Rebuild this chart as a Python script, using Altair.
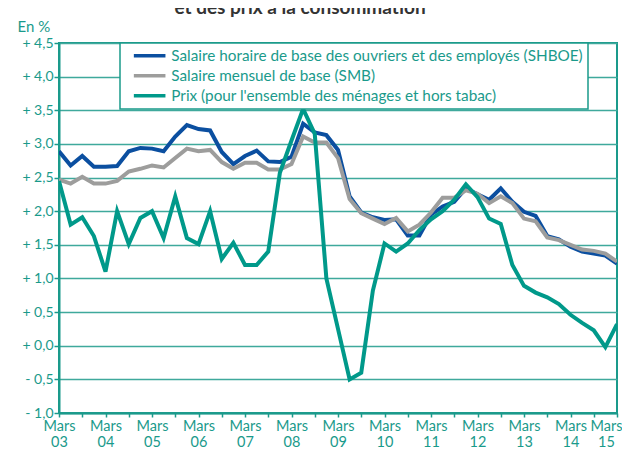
import altair as alt
import pandas as pd

TEAL = "#1a9a8b"
GRID = "#3fa99c"
FONT = "Lato"

names = [
    "Salaire horaire de base des ouvriers et des employés (SHBOE)",
    "Salaire mensuel de base (SMB)",
    "Prix (pour l'ensemble des ménages et hors tabac)",
]
colors = ["#0b4fa0", "#9d9d9c", "#00998a"]

# quarterly points, Mars 2003 -> Mars 2015
quarters = [2003 + 0.25 * i for i in range(49)]

shboe = [2.89, 2.68, 2.82, 2.66, 2.66, 2.67, 2.89, 2.94, 2.93, 2.89,
         3.11, 3.28, 3.22, 3.20, 2.88, 2.70, 2.82, 2.90, 2.74, 2.73,
         2.81, 3.30, 3.17, 3.13, 2.91, 2.22, 1.98, 1.91, 1.87, 1.88,
         1.64, 1.64, 1.95, 2.07, 2.14, 2.34, 2.25, 2.17, 2.34, 2.14,
         1.99, 1.93, 1.63, 1.58, 1.47, 1.40, 1.37, 1.34, 1.22]

smb = [2.47, 2.41, 2.51, 2.41, 2.41, 2.45, 2.59, 2.63, 2.68, 2.65,
       2.79, 2.93, 2.89, 2.91, 2.73, 2.63, 2.72, 2.72, 2.62, 2.62,
       2.70, 3.11, 3.02, 3.02, 2.79, 2.18, 1.97, 1.89, 1.81, 1.90,
       1.70, 1.80, 1.98, 2.20, 2.20, 2.31, 2.26, 2.12, 2.22, 2.12,
       1.89, 1.85, 1.61, 1.57, 1.50, 1.43, 1.41, 1.37, 1.25]

prix = [2.45, 1.80, 1.91, 1.63, 1.10, 2.00, 1.51, 1.90, 2.00, 1.60,
        2.22, 1.60, 1.51, 2.00, 1.29, 1.53, 1.20, 1.20, 1.40, 2.57,
        3.05, 3.52, 3.15, 1.00, 0.25, -0.50, -0.40, 0.82, 1.52, 1.40,
        1.52, 1.72, 1.88, 2.00, 2.17, 2.40, 2.21, 1.89, 1.81, 1.20,
        0.89, 0.79, 0.72, 0.62, 0.46, 0.34, 0.23, -0.02, 0.32]

x_ticks = [2003 + 0.5 * i for i in range(25)]
y_ticks = [-1.0, -0.5, 0.0, 0.5, 1.0, 1.5, 2.0, 2.5, 3.0, 3.5, 4.0, 4.5]

rows = []
for name, series in zip(names, [shboe, smb, prix]):
    for t, v in zip(quarters, series):
        rows.append({"t": t, "v": v, "s": name})
df = pd.DataFrame(rows)

x_enc = alt.X(
    "t:Q",
    scale=alt.Scale(domain=[2003, 2015], nice=False, zero=False),
    axis=alt.Axis(
        values=x_ticks, title=None, grid=False, tickSize=4, tickWidth=1.5,
        tickColor=TEAL, domainColor=TEAL, domainWidth=2,
        labelExpr="datum.value % 1 == 0 ? ['Mars', slice(toString(datum.value), 2)] : ''",
        labelFontSize=14.5, labelFont=FONT, labelColor=TEAL, labelPadding=2,
        labelLineHeight=16, labelAngle=0, labelOverlap=False, labelFlush=False,
        labelOffset={"condition": {"test": "datum.value == 2015", "value": -11}, "value": 0},
    ),
)
y_enc = alt.Y(
    "v:Q",
    scale=alt.Scale(domain=[-1, 4.5], nice=False, zero=False),
    axis=alt.Axis(
        values=y_ticks, tickSize=5, tickWidth=1.5, tickColor=TEAL,
        domainColor=TEAL, domainWidth=2, gridColor=GRID, gridWidth=1.5,
        gridOpacity=1,
        labelExpr="(datum.value < 0 ? '- ' : '+ ') + replace(format(abs(datum.value), '.1f'), '.', ',')",
        labelFontSize=14, labelFont=FONT, labelColor=TEAL, labelPadding=1,
        title="En %", titleAngle=0, titleX=-42, titleY=-12, titleAlign="left",
        titleBaseline="alphabetic", titleFontWeight="normal", titleFontSize=15,
        titleFont=FONT, titleColor=TEAL,
    ),
)
color_enc = alt.Color(
    "s:N",
    scale=alt.Scale(domain=names, range=colors),
    legend=alt.Legend(
        title=None, orient="none", legendX=61, legendY=0, direction="vertical",
        symbolType="M-3,0H3", symbolStrokeWidth=3.5, symbolSize=111,
        labelFontSize=15.3, labelFont=FONT, labelColor=TEAL, labelLimit=0,
        padding=5, rowPadding=4, labelOffset=14, symbolOffset=17,
        fillColor="white", strokeColor=TEAL,
    ),
)

base = alt.Chart(df).encode(x=x_enc, y=y_enc, color=color_enc)
layers = [
    base.transform_filter(alt.datum.s == n).mark_line(strokeWidth=4, clip=True)
    for n in names
]

title = alt.Chart(alt.Data(values=[{}])).mark_text(
    text="et des prix à la consommation", font=FONT, fontSize=19,
    fontWeight="bold", color="#333333", align="center", baseline="alphabetic",
).encode(x=alt.value(241), y=alt.value(-29))

chart = alt.layer(*layers, title).properties(
    width=558, height=370,
    padding={"left": 51, "top": 35, "right": 5, "bottom": 36},
    autosize=alt.AutoSizeParams(type="none"),
).configure_view(stroke=TEAL, strokeWidth=2).configure_legend(strokeWidth=1.5)

chart.save("out.html", embed_options={"renderer": "svg", "actions": False})
